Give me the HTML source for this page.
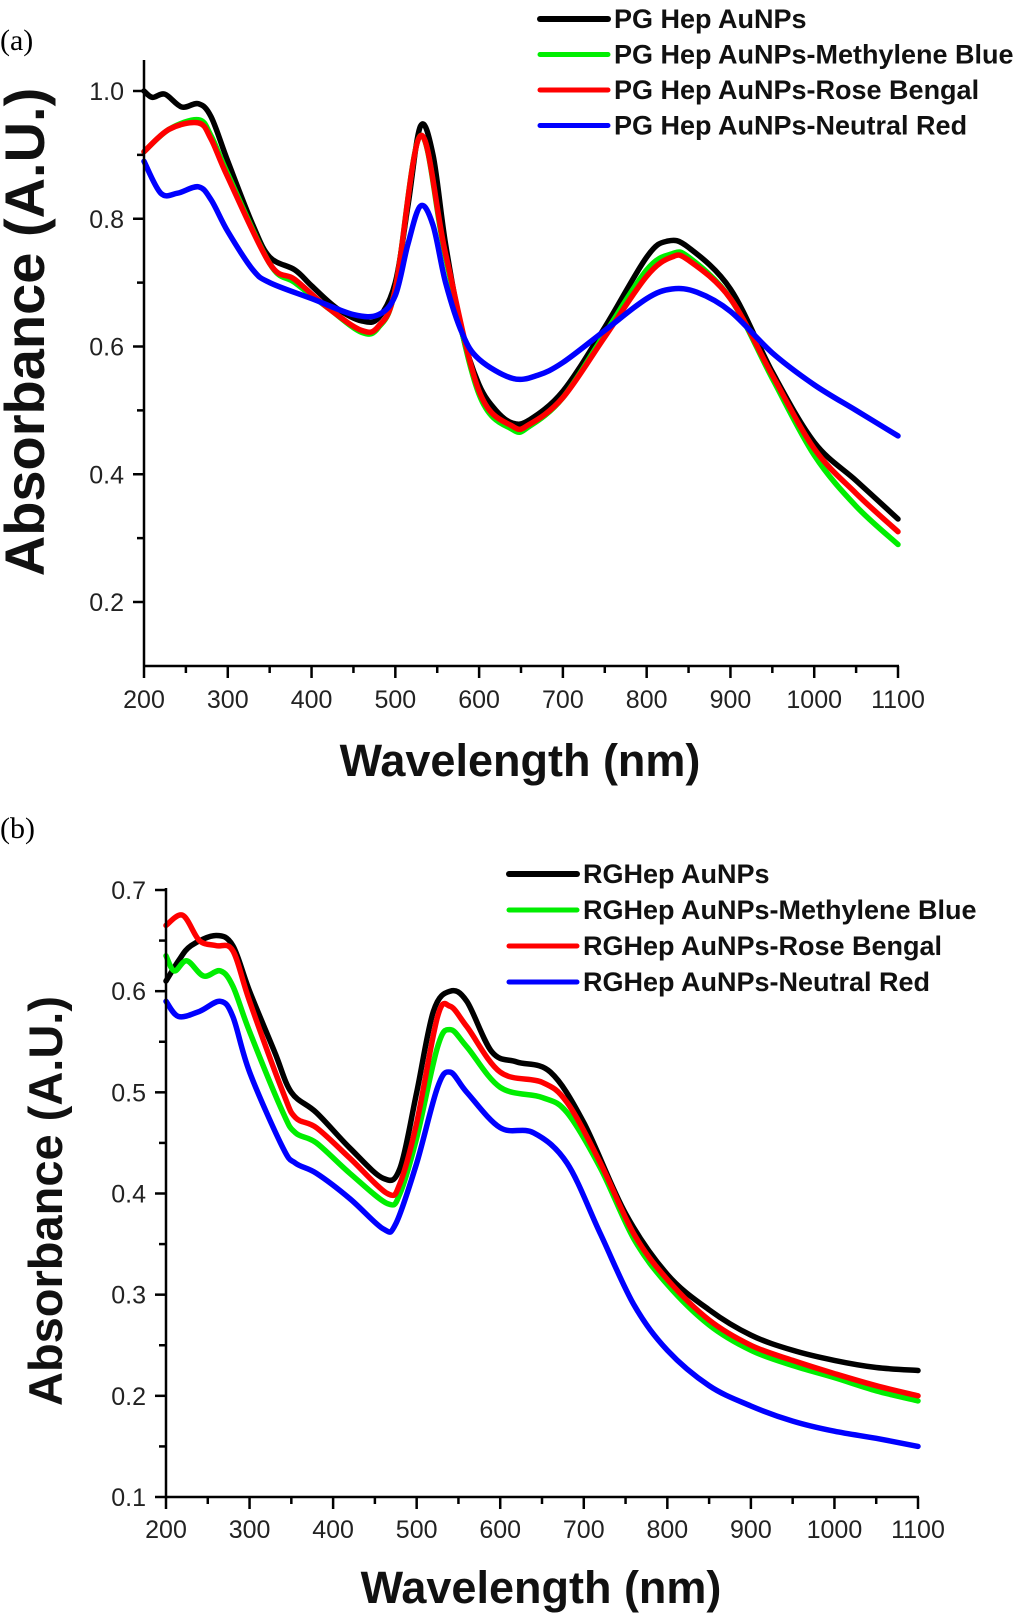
<!DOCTYPE html>
<html><head><meta charset="utf-8"><style>
html,body{margin:0;padding:0;background:#fff;}
svg{display:block;}
text{font-family:"Liberation Sans",Arial,sans-serif;}
</style></head><body>
<svg id="fig" width="1024" height="1620" viewBox="0 0 1024 1620">
<text x="0" y="50" style="font-family:'Liberation Serif',serif" font-size="30">(a)</text>
<text x="0" y="838" style="font-family:'Liberation Serif',serif" font-size="30">(b)</text>
</svg>
<script>
const xTicksA=[200,300,400,500,600,700,800,900,1000,1100];
const yTicksA=[0.2,0.4,0.6,0.8,1.0];
const yTicksB=[0.1,0.2,0.3,0.4,0.5,0.6,0.7];
const namesA=["PG Hep AuNPs","PG Hep AuNPs-Methylene Blue","PG Hep AuNPs-Rose Bengal","PG Hep AuNPs-Neutral Red"];
const namesB=["RGHep AuNPs","RGHep AuNPs-Methylene Blue","RGHep AuNPs-Rose Bengal","RGHep AuNPs-Neutral Red"];
const colors=["#000000","#00ee00","#ff0000","#0000ff"];
const aBlackX=[200,210,225,245,265,280,300,330,350,380,400,430,460,480,500,515,530,545,560,580,600,620,640,660,700,750,800,825,850,900,950,1000,1050,1100];
const aBlackY=[1.0,0.99,0.995,0.975,0.98,0.96,0.89,0.79,0.74,0.72,0.695,0.66,0.64,0.645,0.70,0.82,0.945,0.90,0.76,0.62,0.54,0.50,0.48,0.485,0.53,0.63,0.74,0.765,0.755,0.69,0.56,0.45,0.39,0.33];
const aGreenX=[200,230,265,280,300,350,380,420,460,480,500,530,560,600,640,660,700,750,800,830,850,900,950,1000,1050,1100];
const aGreenY=[0.905,0.94,0.955,0.93,0.87,0.73,0.70,0.66,0.622,0.63,0.69,0.93,0.74,0.525,0.47,0.475,0.52,0.62,0.72,0.745,0.74,0.675,0.55,0.43,0.35,0.29];
const aRedX=[200,230,265,280,300,350,380,420,460,480,500,530,560,600,640,660,700,750,800,830,850,900,950,1000,1050,1100];
const aRedY=[0.905,0.94,0.95,0.925,0.865,0.73,0.705,0.66,0.625,0.632,0.69,0.93,0.745,0.53,0.475,0.478,0.52,0.615,0.71,0.74,0.735,0.675,0.555,0.44,0.37,0.31];
const aBlueX=[200,220,240,265,280,300,330,350,400,450,480,500,515,530,545,560,580,600,640,670,700,750,800,830,860,900,950,1000,1050,1100];
const aBlueY=[0.89,0.84,0.84,0.85,0.83,0.78,0.72,0.70,0.675,0.65,0.65,0.68,0.76,0.82,0.79,0.70,0.62,0.58,0.55,0.555,0.575,0.625,0.675,0.69,0.685,0.655,0.59,0.54,0.50,0.46];
const bBlackX=[200,215,230,260,280,300,330,350,380,420,460,480,500,520,540,560,590,620,660,700,750,800,850,900,950,1000,1050,1100];
const bBlackY=[0.61,0.63,0.645,0.655,0.645,0.60,0.54,0.50,0.48,0.445,0.415,0.425,0.50,0.58,0.60,0.59,0.54,0.53,0.52,0.47,0.38,0.32,0.285,0.26,0.245,0.235,0.228,0.225];
const bGreenX=[200,210,225,245,265,280,300,340,355,380,420,465,480,500,525,540,560,600,650,680,720,760,800,850,900,950,1000,1050,1100];
const bGreenY=[0.635,0.62,0.63,0.615,0.62,0.605,0.56,0.48,0.46,0.45,0.42,0.39,0.40,0.455,0.545,0.562,0.545,0.505,0.495,0.48,0.425,0.355,0.31,0.27,0.245,0.23,0.218,0.205,0.195];
const bRedX=[200,220,240,260,280,300,340,355,380,420,465,480,500,525,540,560,600,650,680,720,760,800,850,900,950,1000,1050,1100];
const bRedY=[0.665,0.675,0.65,0.645,0.64,0.59,0.50,0.475,0.465,0.435,0.40,0.41,0.47,0.575,0.585,0.565,0.52,0.51,0.49,0.43,0.36,0.315,0.275,0.25,0.235,0.222,0.21,0.20];
const bBlueX=[200,215,240,265,280,300,340,355,380,420,460,475,500,525,540,560,600,640,680,720,760,800,850,900,950,1000,1050,1100];
const bBlueY=[0.59,0.575,0.58,0.59,0.575,0.52,0.445,0.43,0.42,0.395,0.365,0.37,0.43,0.505,0.52,0.50,0.465,0.46,0.43,0.36,0.29,0.245,0.21,0.19,0.175,0.165,0.158,0.15];

const NS="http://www.w3.org/2000/svg";
const svg=document.getElementById('fig');
function mk(tag,attrs,parent){const e=document.createElementNS(NS,tag);for(const k in attrs)e.setAttribute(k,attrs[k]);(parent||svg).appendChild(e);return e;}
function smooth(pts){
  let d='M'+pts[0][0].toFixed(1)+' '+pts[0][1].toFixed(1);
  for(let i=0;i<pts.length-1;i++){
    const p0=pts[Math.max(0,i-1)],p1=pts[i],p2=pts[i+1],p3=pts[Math.min(pts.length-1,i+2)];
    const c1x=p1[0]+(p2[0]-p0[0])/6,c1y=p1[1]+(p2[1]-p0[1])/6;
    const c2x=p2[0]-(p3[0]-p1[0])/6,c2y=p2[1]-(p3[1]-p1[1])/6;
    d+='C'+c1x.toFixed(1)+' '+c1y.toFixed(1)+' '+c2x.toFixed(1)+' '+c2y.toFixed(1)+' '+p2[0].toFixed(1)+' '+p2[1].toFixed(1);
  }
  return d;
}
function panel(cfg){
  const g=mk('g',{});
  
  
  const sx=v=>cfg.x0+(v-200)*(cfg.x1-cfg.x0)/900;
  const sy=v=>cfg.yA+(v-cfg.vA)*(cfg.yB-cfg.yA)/(cfg.vB-cfg.vA);
  cfg.series.forEach((s,i)=>{
    const pts=s[0].map((xv,j)=>[sx(xv),sy(s[1][j])]);
    const p=mk('path',{d:smooth(pts),fill:'none',stroke:colors[i],'stroke-width':5.5,'stroke-linejoin':'round','stroke-linecap':'round'},g);
    
    
  });
  const axL=mk('line',{x1:cfg.x0,y1:cfg.axTop,x2:cfg.x0,y2:cfg.axBot,stroke:'#000','stroke-width':2.5},g);
  
  
  const axB=mk('line',{x1:cfg.x0-1,y1:cfg.axBot,x2:cfg.x1+1,y2:cfg.axBot,stroke:'#000','stroke-width':2.5},g);
  
  
  xTicksA.forEach(t=>{
    const x=sx(t);
    mk('line',{x1:x,y1:cfg.axBot,x2:x,y2:cfg.axBot+12,stroke:'#000','stroke-width':2.5},g);
    if(t<1100){const xm=sx(t+50);mk('line',{x1:xm,y1:cfg.axBot,x2:xm,y2:cfg.axBot+7,stroke:'#000','stroke-width':2.5},g);}
    const tx=mk('text',{x:x,y:cfg.xLabY,'font-size':25,'text-anchor':'middle',fill:'#222'},g);
    tx.textContent=t;
    
    
  });
  cfg.yTicks.forEach(t=>{
    const y=sy(t);
    mk('line',{x1:cfg.x0-11,y1:y,x2:cfg.x0,y2:y,stroke:'#000','stroke-width':2.5},g);
    const ym=sy(t+cfg.step/2);
    if(ym>cfg.axTop)mk('line',{x1:cfg.x0-7,y1:ym,x2:cfg.x0,y2:ym,stroke:'#000','stroke-width':2.5},g);
    const tx=mk('text',{x:cfg.x0-20,y:y+9,'font-size':25,'text-anchor':'end',fill:'#222'},g);
    tx.textContent=t.toFixed(1);
    
    
  });
  const bm=sy(cfg.yTicks[0]-cfg.step/2);
  if(bm<cfg.axBot-2)mk('line',{x1:cfg.x0-7,y1:bm,x2:cfg.x0,y2:bm,stroke:'#000','stroke-width':2.5},g);
  const xt=mk('text',{x:cfg.xtX,y:cfg.xtY,'font-size':cfg.xtSize,'font-weight':'bold','text-anchor':'middle',fill:'#111'},g);
  xt.textContent='Wavelength (nm)';
  
  
  const yt=mk('text',{x:0,y:0,'font-size':cfg.ytSize,'font-weight':'bold','text-anchor':'middle',fill:'#111',transform:'translate('+cfg.ytX+','+cfg.ytY+') rotate(-90)'},g);
  yt.textContent='Absorbance (A.U.)';
  
  
  cfg.names.forEach((n,i)=>{
    const y=cfg.legY+i*cfg.legDy;
    const l=mk('line',{x1:cfg.legX,y1:y,x2:cfg.legX+68,y2:y,stroke:colors[i],'stroke-width':i==0?6:5,'stroke-linecap':'round'},g);
    
    
    const t=mk('text',{x:cfg.legX+74,y:y+9,'font-size':27,'font-weight':'bold',fill:'#111'},g);
    t.textContent=n;
    
    
  });
}
panel({id:'panel-a',x0:144,x1:898,yA:91,vA:1.0,yB:602,vB:0.2,axTop:60,axBot:666,yTicks:yTicksA,step:0.2,xLabY:708,
  series:[[aBlackX,aBlackY],[aGreenX,aGreenY],[aRedX,aRedY],[aBlueX,aBlueY]],
  xtX:520,xtY:776,xtSize:45,ytX:44,ytY:332,ytSize:56,names:namesA,legX:540,legY:19,legDy:35.5});
panel({id:'panel-b',x0:166,x1:918,yA:890,vA:0.7,yB:1497,vB:0.1,axTop:888,axBot:1497,yTicks:yTicksB,step:0.1,xLabY:1538,
  series:[[bBlackX,bBlackY],[bGreenX,bGreenY],[bRedX,bRedY],[bBlueX,bBlueY]],
  xtX:541,xtY:1603,xtSize:45,ytX:62,ytY:1201,ytSize:47,names:namesB,legX:509,legY:874,legDy:36});
</script>
</body></html>
